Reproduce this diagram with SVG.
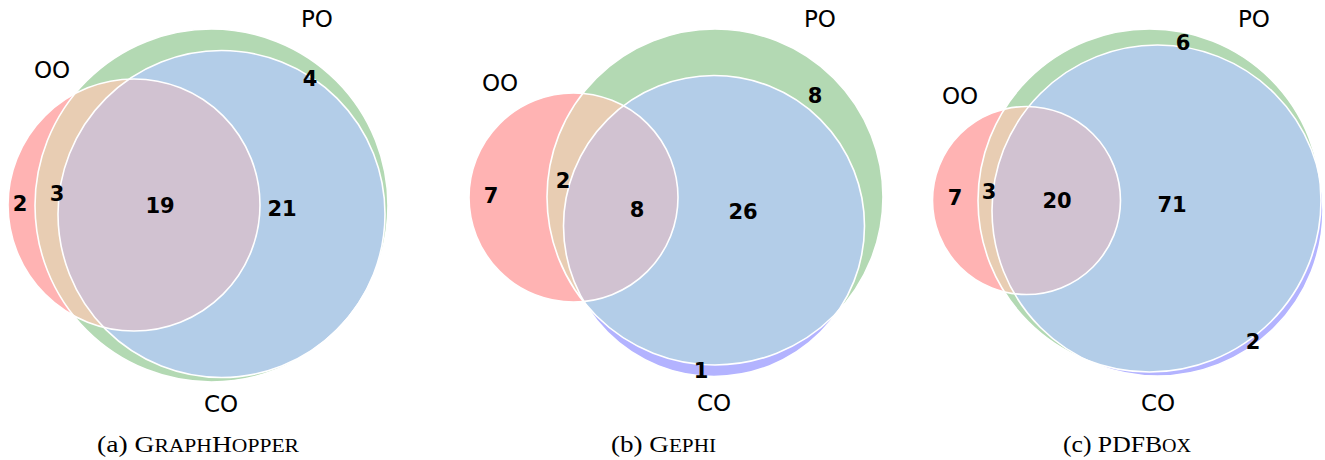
<svg xmlns="http://www.w3.org/2000/svg" width="1325" height="460" viewBox="0 0 1325 460">
<style>
.r{fill:#ffb3b3}
.g{fill:#b3d9b3}
.b{fill:#b3b3ff}
.rg{fill:#e8cdb3}
.gb{fill:#b3cde8}
.rb{fill:#e8b3e8}
.rgb{fill:#d1c2d1}
.edge{fill:none;stroke:#ffffff;stroke-width:1.6}
.num{font-family:"DejaVu Sans",sans-serif;font-weight:bold;font-size:21px;fill:#000;text-anchor:middle}
.lab{font-family:"DejaVu Sans",sans-serif;font-size:23px;fill:#000;text-anchor:middle}
.cap{font-family:"Liberation Serif","Times New Roman",serif;font-size:23px;fill:#000}
.sc{font-size:18px}
</style>
<defs>
<clipPath id="a-cr"><circle cx="134" cy="205" r="126"/></clipPath>
<clipPath id="a-cg"><circle cx="211.5" cy="205.5" r="176.5"/></clipPath>
<clipPath id="b-cr"><circle cx="573.5" cy="197.5" r="104.5"/></clipPath>
<clipPath id="b-cg"><circle cx="715" cy="197" r="168"/></clipPath>
<clipPath id="c-cr"><circle cx="1026.5" cy="200.5" r="94"/></clipPath>
<clipPath id="c-cg"><circle cx="1149.5" cy="200.5" r="171.5"/></clipPath>
</defs>

<!-- Diagram (a) GraphHopper -->
<g id="venn-a">
  <g id="a-OO"><circle class="r" cx="134" cy="205" r="126"/></g>
  <g id="a-PO"><circle class="g" cx="211.5" cy="205.5" r="176.5"/></g>
  <g id="a-CO"><circle class="b" cx="221.5" cy="214" r="163.5"/></g>
  <g id="a-intersections">
    <circle class="rg" cx="211.5" cy="205.5" r="176.5" clip-path="url(#a-cr)"/>
    <circle class="gb" cx="221.5" cy="214" r="163.5" clip-path="url(#a-cg)"/>
    <circle class="rb" cx="221.5" cy="214" r="163.5" clip-path="url(#a-cr)"/>
    <g clip-path="url(#a-cr)"><circle class="rgb" cx="221.5" cy="214" r="163.5" clip-path="url(#a-cg)"/></g>
  </g>
  <g id="a-edges">
    <circle class="edge" cx="134" cy="205" r="126"/>
    <circle class="edge" cx="211.5" cy="205.5" r="176.5"/>
    <circle class="edge" cx="221.5" cy="214" r="163.5"/>
  </g>
  <g id="a-labels">
    <text class="lab" x="317" y="27">PO</text>
    <text class="lab" x="52" y="78">OO</text>
    <text class="lab" x="221" y="412">CO</text>
    <text class="num" x="20" y="211">2</text>
    <text class="num" x="57" y="201">3</text>
    <text class="num" x="160" y="213">19</text>
    <text class="num" x="282" y="216">21</text>
    <text class="num" x="310" y="86">4</text>
  </g>
  <text class="cap" x="97" y="452" textLength="202" lengthAdjust="spacingAndGlyphs">(a) G<tspan class="sc">RAPH</tspan>H<tspan class="sc">OPPER</tspan></text>
</g>

<!-- Diagram (b) Gephi -->
<g id="venn-b">
  <g id="b-OO"><circle class="r" cx="573.5" cy="197.5" r="104.5"/></g>
  <g id="b-PO"><circle class="g" cx="715" cy="197" r="168"/></g>
  <g id="b-CO"><circle class="b" cx="714" cy="226" r="150.5"/></g>
  <g id="b-intersections">
    <circle class="rg" cx="715" cy="197" r="168" clip-path="url(#b-cr)"/>
    <circle class="gb" cx="714" cy="226" r="150.5" clip-path="url(#b-cg)"/>
    <circle class="rb" cx="714" cy="226" r="150.5" clip-path="url(#b-cr)"/>
    <g clip-path="url(#b-cr)"><circle class="rgb" cx="714" cy="226" r="150.5" clip-path="url(#b-cg)"/></g>
  </g>
  <g id="b-edges">
    <circle class="edge" cx="573.5" cy="197.5" r="104.5"/>
    <circle class="edge" cx="715" cy="197" r="168"/>
    <circle class="edge" cx="714" cy="226" r="150.5"/>
  </g>
  <g id="b-labels">
    <text class="lab" x="820" y="27">PO</text>
    <text class="lab" x="500" y="91">OO</text>
    <text class="lab" x="714" y="411">CO</text>
    <text class="num" x="815" y="103">8</text>
    <text class="num" x="491" y="203">7</text>
    <text class="num" x="563" y="188">2</text>
    <text class="num" x="637" y="217">8</text>
    <text class="num" x="743" y="219">26</text>
    <text class="num" x="701" y="378">1</text>
  </g>
  <text class="cap" x="611" y="452" textLength="105" lengthAdjust="spacingAndGlyphs">(b) G<tspan class="sc">EPHI</tspan></text>
</g>

<!-- Diagram (c) PDFBox -->
<g id="venn-c">
  <g id="c-OO"><circle class="r" cx="1026.5" cy="200.5" r="94"/></g>
  <g id="c-PO"><circle class="g" cx="1149.5" cy="200.5" r="171.5"/></g>
  <g id="c-CO"><circle class="b" cx="1157.5" cy="210.5" r="165.5"/></g>
  <g id="c-intersections">
    <circle class="rg" cx="1149.5" cy="200.5" r="171.5" clip-path="url(#c-cr)"/>
    <circle class="gb" cx="1157.5" cy="210.5" r="165.5" clip-path="url(#c-cg)"/>
    <circle class="rb" cx="1157.5" cy="210.5" r="165.5" clip-path="url(#c-cr)"/>
    <g clip-path="url(#c-cr)"><circle class="rgb" cx="1157.5" cy="210.5" r="165.5" clip-path="url(#c-cg)"/></g>
  </g>
  <g id="c-edges">
    <circle class="edge" cx="1026.5" cy="200.5" r="94"/>
    <circle class="edge" cx="1149.5" cy="200.5" r="171.5"/>
    <circle class="edge" cx="1157.5" cy="210.5" r="165.5"/>
  </g>
  <g id="c-labels">
    <text class="lab" x="1254" y="27">PO</text>
    <text class="lab" x="960" y="104">OO</text>
    <text class="lab" x="1158" y="411">CO</text>
    <text class="num" x="1183" y="50">6</text>
    <text class="num" x="955" y="205">7</text>
    <text class="num" x="989" y="199">3</text>
    <text class="num" x="1057" y="208">20</text>
    <text class="num" x="1172" y="212">71</text>
    <text class="num" x="1253" y="349">2</text>
  </g>
  <text class="cap" x="1063" y="452" textLength="128" lengthAdjust="spacingAndGlyphs">(c) PDFB<tspan class="sc">OX</tspan></text>
</g>
</svg>
